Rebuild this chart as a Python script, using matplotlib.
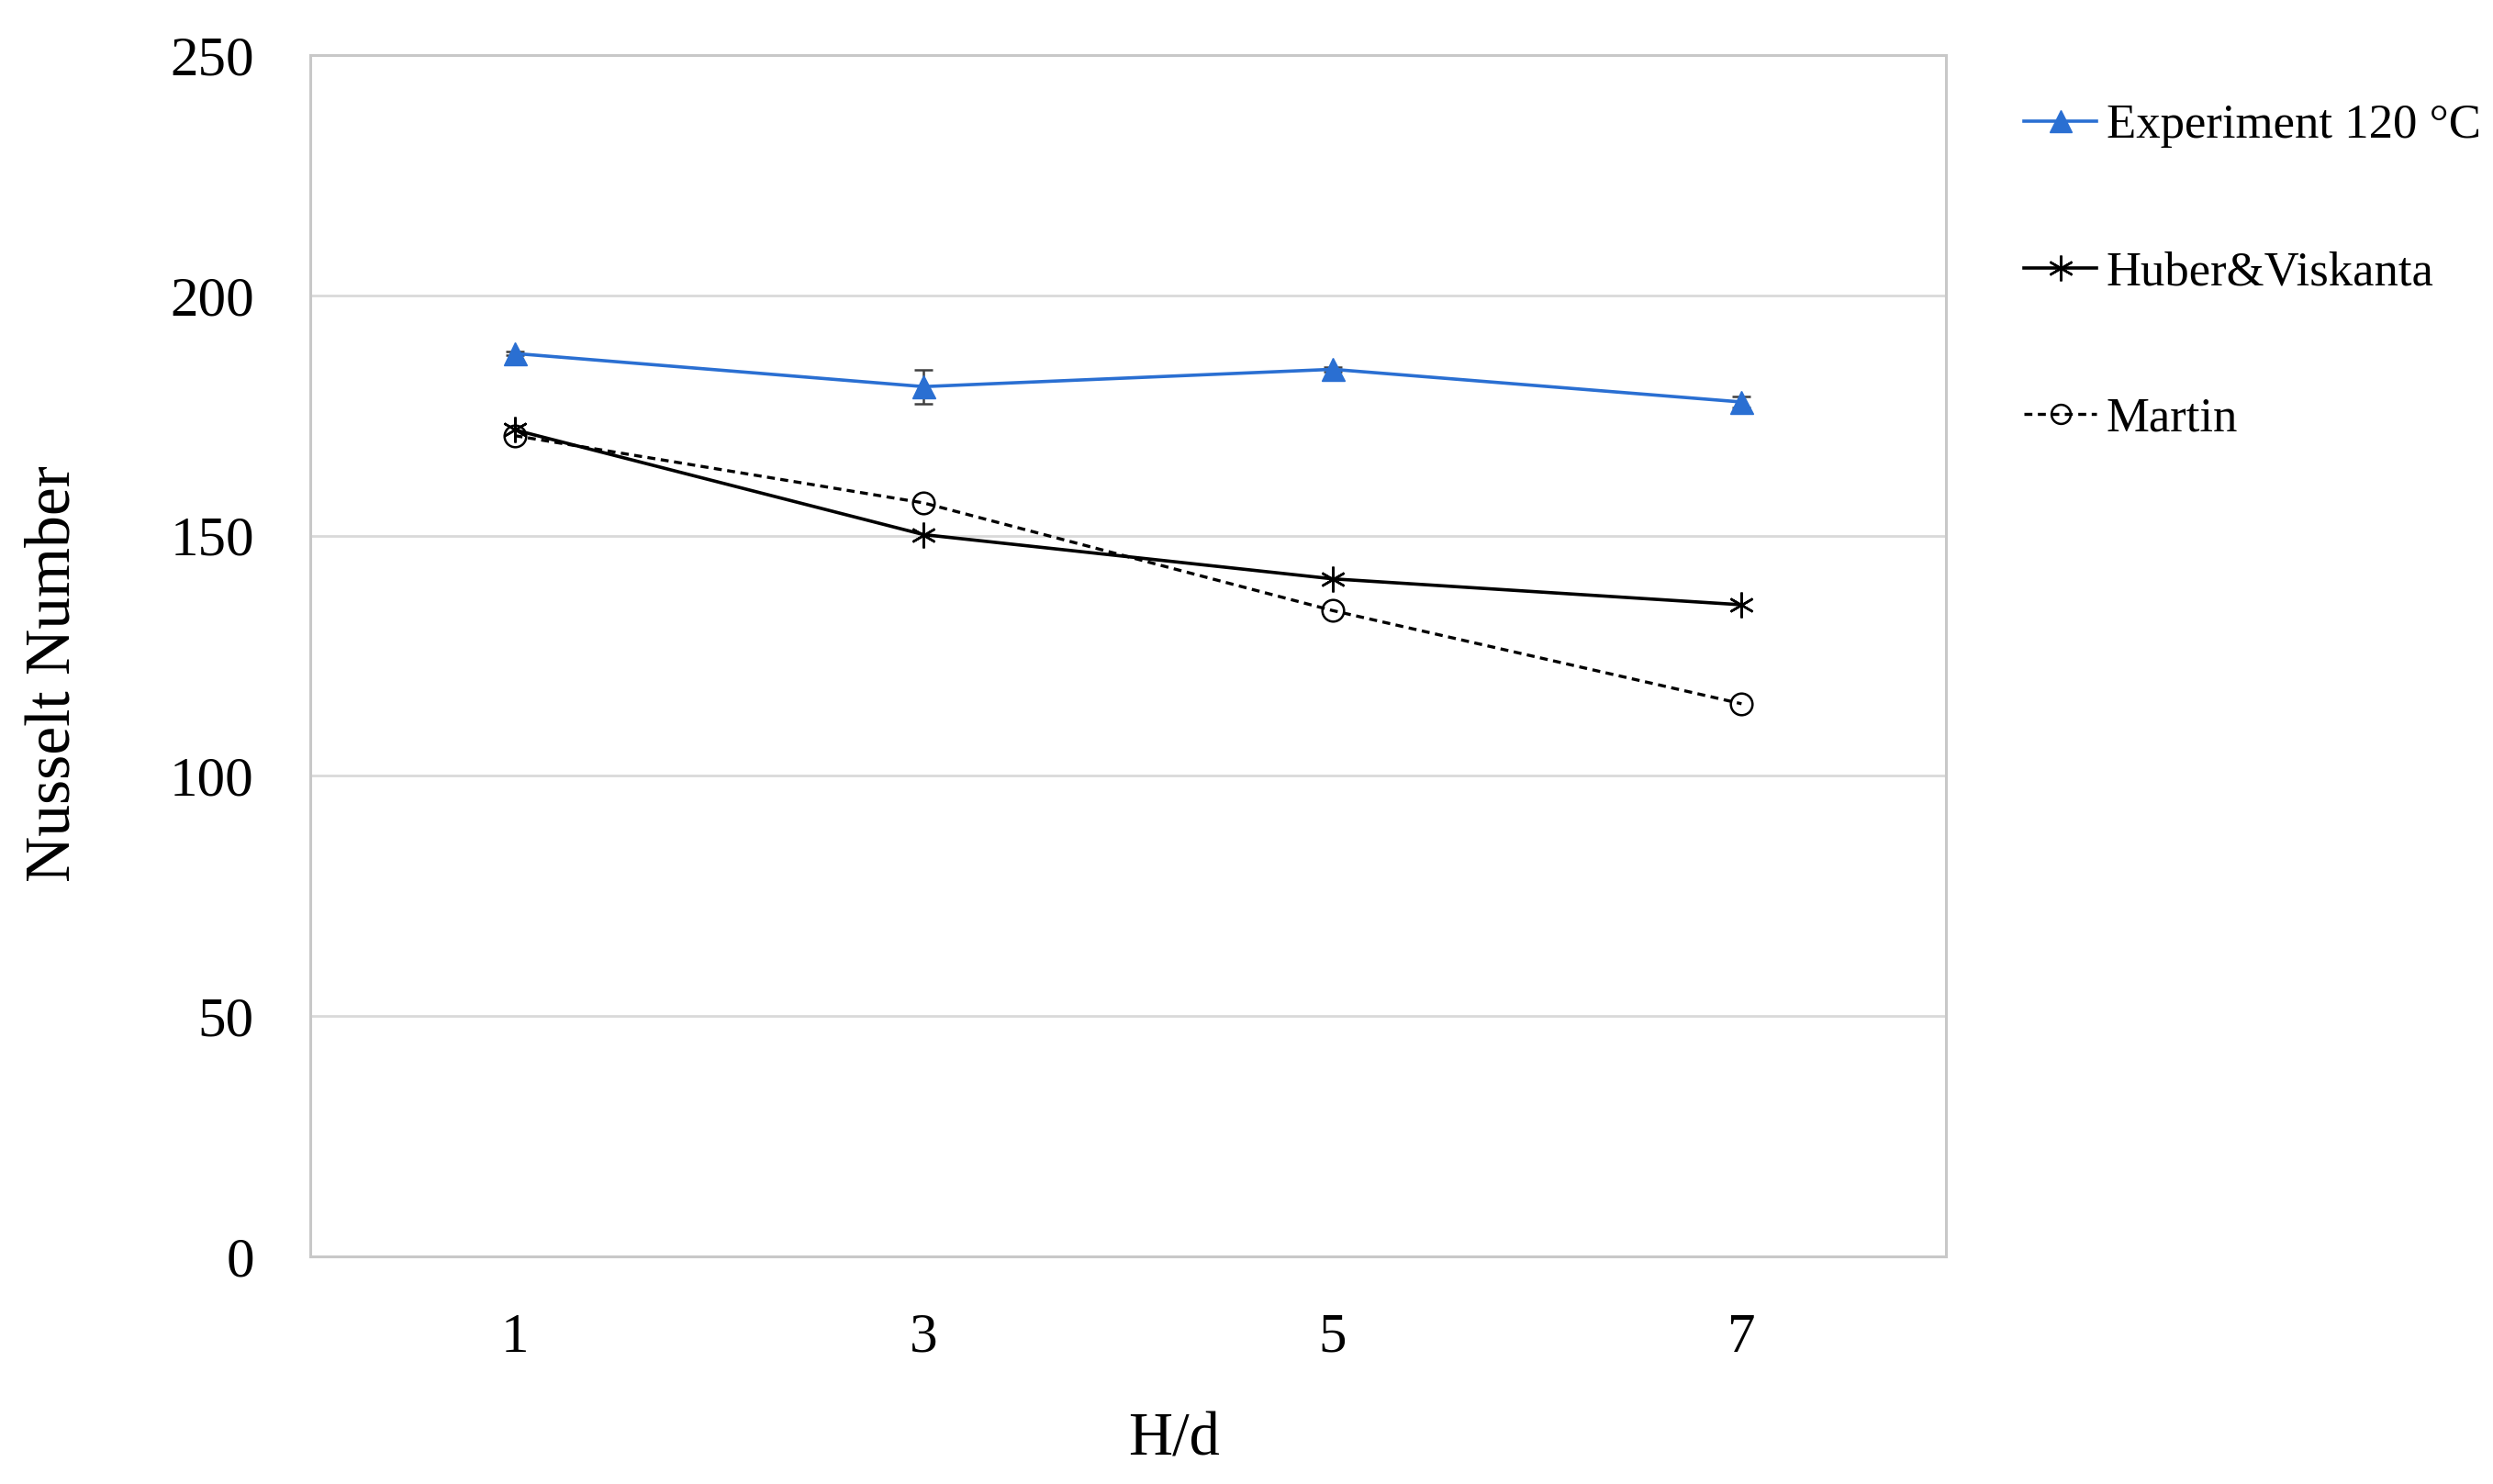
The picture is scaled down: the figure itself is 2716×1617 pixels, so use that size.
import matplotlib
matplotlib.use("Agg")
import matplotlib.pyplot as plt
from matplotlib.lines import Line2D

x_vals = [1, 3, 5, 7]
experiment = [187.9, 181.0, 184.6, 177.8]
experiment_err = [0.4, 3.5, 0.5, 1.2]
huber = [172.0, 150.2, 141.0, 135.6]
martin = [170.8, 156.8, 134.4, 115.0]
labels = ["Experiment 120 °C", "Huber&Viskanta", "Martin"]
y_ticks = [0, 50, 100, 150, 200, 250]

plt.rcParams['font.family'] = ['Liberation Serif', 'DejaVu Serif']
FS = 44
LFS = 38

fig = plt.figure(figsize=(27.16, 16.17), dpi=100)
ax = fig.add_axes([0.1244, 0.1534, 0.7806 - 0.1244, 0.9629 - 0.1534])

blue = '#2A6FD2'
ax.errorbar(x_vals, experiment, yerr=experiment_err, color=blue, lw=2.6,
            marker='^', ms=18, mfc=blue, mec=blue,
            ecolor='#404040', elinewidth=1.8, capsize=7, capthick=1.8,
            zorder=5)
ax.plot(x_vals, huber, color='black', lw=2.6, marker=(6, 2, 0), ms=20,
        mew=1.8, zorder=4)
ax.plot(x_vals, martin, color='black', lw=2.4, ls=(0, (2.6, 1.8)),
        marker='o', ms=17, mfc='none', mew=1.8, zorder=4)

h1 = Line2D([], [], color=blue, lw=2.6, marker='^', ms=17, mfc=blue, mec=blue)
h2 = Line2D([], [], color='black', lw=2.6, marker=(6, 2, 0), ms=20, mew=1.8)
h3 = Line2D([], [], color='black', lw=2.4, ls=(0, (2.6, 1.8)), marker='o',
            ms=15, mfc='none', mew=1.8)

ax.set_xlim(0, 8)
ax.set_ylim(0, 250)
ax.set_xticks(x_vals)
ax.set_yticks(y_ticks)
ax.tick_params(axis='both', length=0, labelsize=FS)
ax.tick_params(axis='y', pad=44)
ax.tick_params(axis='x', pad=44)
ax.yaxis.grid(True, color='#D9D9D9', lw=2)
ax.set_axisbelow(True)
for s in ax.spines.values():
    s.set_color('#C8C8C8')
    s.set_linewidth(2.2)

ax.set_xlabel('H/d', fontsize=48, labelpad=38)
ax.xaxis.label.set_x(0.528)
ax.set_ylabel('Nusselt Number', fontsize=50, labelpad=68)
ax.yaxis.label.set_y(0.485)

fig.legend(handles=[h1, h2, h3], labels=labels, loc='upper left',
           bbox_to_anchor=(0.8119, 0.930), frameon=False, fontsize=LFS,
           handlelength=1.5, handletextpad=0.2, labelspacing=2.12,
           borderaxespad=0, borderpad=0)

fig.savefig('out.png', dpi=100)
